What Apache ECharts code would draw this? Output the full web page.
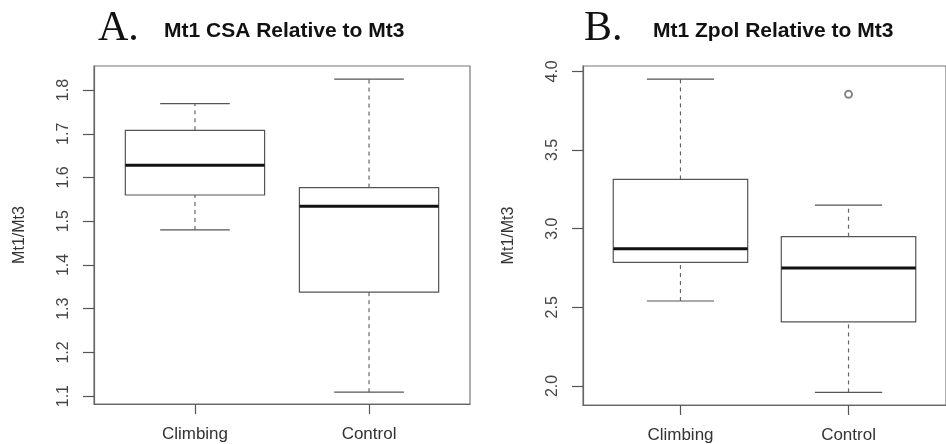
<!DOCTYPE html>
<html>
<head>
<meta charset="utf-8">
<script src="https://cdn.jsdelivr.net/npm/echarts@6/dist/echarts.min.js"></script>
<style>
  html, body { margin: 0; padding: 0; background: #fff; }
  #main { width: 946px; height: 444px; }
</style>
</head>
<body>
<div id="main"></div>
<script>
// groups on the x axis (positions 1 and 2)
var groups = ['Climbing', 'Control'];

// box stats per group: [min, Q1, median, Q3, max]
var csaStats = [
    [1.480, 1.560, 1.628, 1.708, 1.769],
    [1.109, 1.338, 1.534, 1.577, 1.825]
];
var zpolStats = [
    [2.540, 2.786, 2.872, 3.313, 3.951],
    [1.959, 2.408, 2.750, 2.949, 3.150]
];
// outliers: [group position, value]
var csaOutliers = [];
var zpolOutliers = [[2, 3.854]];

// tick labels
var csaTicks = [1.1, 1.2, 1.3, 1.4, 1.5, 1.6, 1.7, 1.8];
var zpolTicks = [2.0, 2.5, 3.0, 3.5, 4.0];

var FONT = '"Liberation Sans", Arial, sans-serif';
var SERIF = '"Liberation Serif", "Times New Roman", serif';
var LINE = '#555';

function boxData(stats)
{
    var out = [];
    for (var i = 0; i < stats.length; i++) {
        out.push([i + 1].concat(stats[i]));
    }
    return out;
}

// draws one R-style box (dashed whiskers, thick median)
function renderBox(params, api)
{
    var x = api.value(0);
    var lo = api.value(1), q1 = api.value(2), med = api.value(3), q3 = api.value(4), hi = api.value(5);
    var half = 0.4, cap = 0.2;
    function seg(x1, y1, x2, y2, style) {
        var a = api.coord([x1, y1]), b = api.coord([x2, y2]);
        return { type: 'line', shape: { x1: a[0], y1: a[1], x2: b[0], y2: b[1] }, style: style };
    }
    var solid = { stroke: LINE, lineWidth: 1.2 };
    var dash = { stroke: '#666', lineWidth: 1.2, lineDash: [4, 4] };
    var tl = api.coord([x - half, q3]), br = api.coord([x + half, q1]);
    return {
        type: 'group',
        children: [
            seg(x, q3, x, hi, dash),
            seg(x, lo, x, q1, dash),
            seg(x - cap, hi, x + cap, hi, solid),
            seg(x - cap, lo, x + cap, lo, solid),
            { type: 'rect', shape: { x: tl[0], y: tl[1], width: br[0] - tl[0], height: br[1] - tl[1] },
              style: { fill: '#fff', stroke: LINE, lineWidth: 1.2 } },
            seg(x - half, med, x + half, med, { stroke: '#111', lineWidth: 3 })
        ]
    };
}

function xAxisFor(idx)
{
    return {
        type: 'value', gridIndex: idx, min: 0.42, max: 2.58,
        splitLine: { show: false },
        axisLine: { show: true, onZero: false, lineStyle: { color: '#666', width: 1.2 } },
        axisTick: { show: true, customValues: [1, 2], length: 10, lineStyle: { color: '#555', width: 1.2 } },
        axisLabel: {
            customValues: [1, 2], margin: 22, color: '#333', fontSize: 17, fontFamily: FONT,
            formatter: function(v) { return groups[Math.round(v) - 1]; }
        }
    };
}

function yAxisFor(idx, min, max, ticks)
{
    return {
        type: 'value', gridIndex: idx, min: min, max: max,
        name: 'Mt1/Mt3', nameLocation: 'middle', nameGap: 66, nameRotate: 90,
        nameTextStyle: { color: '#333', fontSize: 16, fontFamily: FONT },
        splitLine: { show: false },
        axisLine: { show: true, lineStyle: { color: '#666', width: 1.2 } },
        axisTick: { show: true, customValues: ticks, length: 11, lineStyle: { color: '#555', width: 1.2 } },
        axisLabel: {
            customValues: ticks, rotate: 90, margin: 22, color: '#444', fontSize: 16, fontFamily: FONT,
            formatter: function(v) { return v.toFixed(1); }
        }
    };
}

var dom = document.getElementById('main');
var myChart = echarts.init(dom, null, { renderer: 'canvas' });

var option = {
    backgroundColor: '#fff',
    animation: false,
    title: [
        { text: 'A.', left: 93, top: 3, textStyle: { fontFamily: SERIF, fontWeight: 'normal', fontSize: 42, color: '#111' } },
        { text: 'Mt1 CSA Relative to Mt3', left: 159, top: 16, textStyle: { fontFamily: FONT, fontWeight: 'bold', fontSize: 21, color: '#111' } },
        { text: 'B.', left: 579, top: 3, textStyle: { fontFamily: SERIF, fontWeight: 'normal', fontSize: 42, color: '#111' } },
        { text: 'Mt1 Zpol Relative to Mt3', left: 648, top: 16, textStyle: { fontFamily: FONT, fontWeight: 'bold', fontSize: 21, color: '#111' } }
    ],
    grid: [
        { left: 94, top: 66, width: 376, height: 338, show: true, borderColor: '#777', borderWidth: 1.2, backgroundColor: 'transparent' },
        { left: 583, top: 66, width: 376, height: 339, show: true, borderColor: '#777', borderWidth: 1.2, backgroundColor: 'transparent' }
    ],
    xAxis: [xAxisFor(0), xAxisFor(1)],
    yAxis: [
        yAxisFor(0, 1.082, 1.855, csaTicks),
        yAxisFor(1, 1.879, 4.034, zpolTicks)
    ],
    series: [
        { type: 'custom', xAxisIndex: 0, yAxisIndex: 0, renderItem: renderBox,
          encode: { x: 0, y: [1, 2, 3, 4, 5] }, data: boxData(csaStats) },
        { type: 'custom', xAxisIndex: 1, yAxisIndex: 1, renderItem: renderBox,
          encode: { x: 0, y: [1, 2, 3, 4, 5] }, data: boxData(zpolStats) },
        { type: 'scatter', xAxisIndex: 0, yAxisIndex: 0, data: csaOutliers,
          symbol: 'emptyCircle', symbolSize: 7, itemStyle: { color: '#666', borderWidth: 1.5 } },
        { type: 'scatter', xAxisIndex: 1, yAxisIndex: 1, data: zpolOutliers,
          symbol: 'emptyCircle', symbolSize: 7, itemStyle: { color: '#666', borderWidth: 1.5 } }
    ]
};

myChart.setOption(option, true);
window.onresize = function() {
    myChart.resize();
};
</script>
</body>
</html>
